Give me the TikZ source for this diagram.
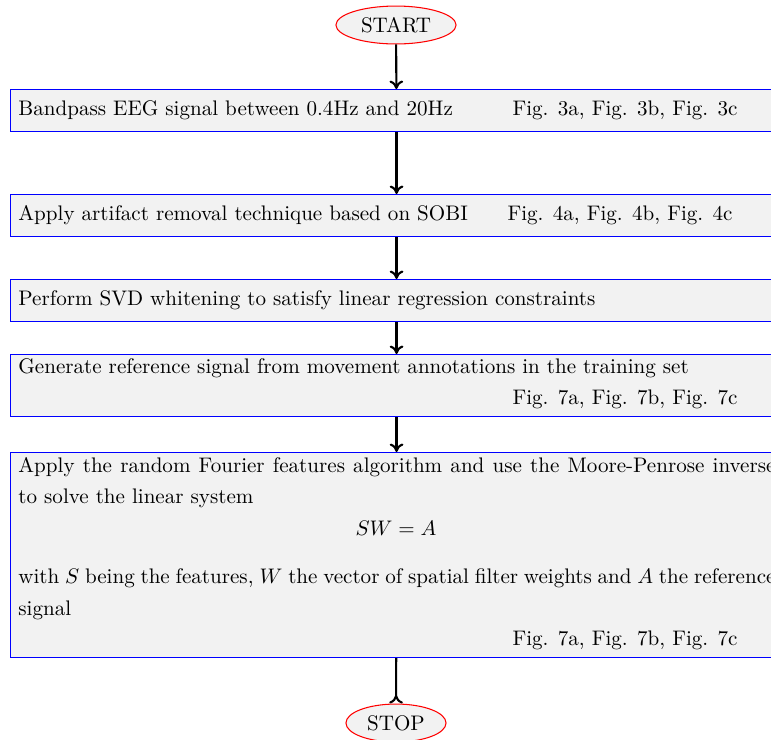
\documentclass[tikz,border=0pt]{standalone}
\usetikzlibrary{arrows.meta,shapes.geometric}
\begin{document}
\begin{tikzpicture}[x=0.4746pt,y=-0.4746pt,
  stepbox/.style={draw=blue, line width=0.5pt, fill=black!5, anchor=north west, minimum width=366.4pt, inner sep=0pt},
  term/.style={ellipse, draw=red, line width=0.5pt, fill=black!5, inner sep=0pt, minimum height=18pt},
  txt/.style={anchor=base west, inner sep=0pt},
  figref/.style={anchor=base east, inner sep=0pt},
  arr/.style={line width=1pt, -{To[length=4pt,width=6.5pt]}},
  arrrev/.style={line width=1pt, -{To[reversed,length=4pt,width=6.5pt]}}]
\useasboundingbox (0,0) rectangle (771,740);

\node[term, minimum width=57pt] (start) at (396,25) {START};

\node[stepbox, minimum height=19.7pt] (b1) at (10,89) {};
\node[txt] (t1) at (18,115.5) {Bandpass EEG signal between 0.4Hz and 20Hz};
\node[figref] (f1) at (738,115.5) {Fig. 3a, Fig. 3b, Fig. 3c};

\node[stepbox, minimum height=20.1pt] (b2) at (10,194) {};
\node[txt] (t2) at (18,220) {Apply artifact removal technique based on SOBI};
\node[figref] (f2) at (733,220) {Fig. 4a, Fig. 4b, Fig. 4c};

\node[stepbox, minimum height=20.1pt] (b3) at (10,279) {};
\node[txt] (t3) at (18,305) {Perform SVD whitening to satisfy linear regression constraints};

\node[stepbox, minimum height=29.4pt] (b4) at (10,354) {};
\node[txt] (t4) at (18,373) {Generate reference signal from movement annotations in the training set};
\node[figref] (f4) at (738,404) {Fig. 7a, Fig. 7b, Fig. 7c};

\node[stepbox, minimum height=97.3pt] (b5) at (10,452) {};
\node[txt] (t5a) at (18,472) {\makebox[359.3pt][s]{Apply the random Fourier features algorithm and use the Moore-Penrose inverse}};
\node[txt] (t5b) at (18,503) {to solve the linear system};
\node[anchor=base, inner sep=0pt] (eq) at (396,535) {$SW = A$};
\node[txt] (t5c) at (18,583) {\makebox[359.3pt][s]{with $S$ being the features, $W$ the vector of spatial filter weights and $A$ the reference}};
\node[txt] (t5d) at (18,615) {signal};
\node[figref] (f5) at (738,645) {Fig. 7a, Fig. 7b, Fig. 7c};

\node[term, minimum width=47.5pt] (stop) at (396,723) {STOP};

\draw[arr] (start) -- (b1);
\draw[arr] (b1) -- (b2);
\draw[arr] (b2) -- (b3);
\draw[arr] (b3) -- (b4);
\draw[arr] (b4) -- (b5);
\draw[arrrev] (b5) -- (stop);
\end{tikzpicture}
\end{document}
